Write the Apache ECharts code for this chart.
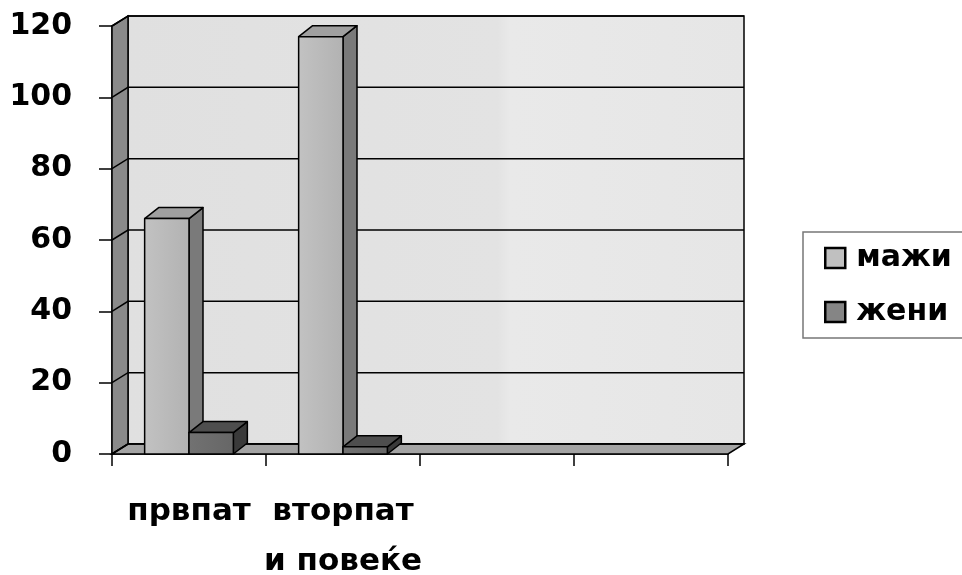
<!DOCTYPE html>
<html><head><meta charset="utf-8">
<script src="https://cdn.jsdelivr.net/npm/echarts@6/dist/echarts.min.js"></script>
<style>html,body{margin:0;padding:0;background:#fff}#c{width:962px;height:575px}</style>
</head><body><div id="c"></div>
<script>
const categories = ['првпат', 'вторпат\nи повеќе', '', ''];
const seriesNames = ['мажи', 'жени'];
const maleValues = [66, 117];
const femaleValues = [6, 2];
const yTicks = [0, 20, 40, 60, 80, 100, 120];

const FONT = '"DejaVu Sans", "Open Sans", sans-serif';
const DX = 16, DY = -10;   // wall depth
const BDX = 14, BDY = -11; // bar depth
const chart = echarts.init(document.getElementById('c'));

function frame(api) {
  const p0 = api.coord([0, 0]);
  const bw = api.size([1, 0])[0];
  const left = p0[0] - bw / 2;
  const right = left + bw * categories.length;
  const bottom = p0[1];
  const top = api.coord([0, yTicks[yTicks.length - 1]])[1];
  return { left, right, bottom, top, bw };
}

function renderWalls(params, api) {
  const f = frame(api);
  return {
    type: 'group',
    children: [
      { type: 'rect', shape: { x: f.left + DX, y: f.top + DY, width: f.right - f.left, height: f.bottom - f.top },
        style: { fill: new echarts.graphic.LinearGradient(0, 0, 1, 0, [
          { offset: 0, color: '#e0e0e0' }, { offset: 0.6, color: '#e3e3e3' }, { offset: 0.62, color: '#e9e9e9' }, { offset: 1, color: '#e6e6e6' }]),
          stroke: '#000', lineWidth: 1.5 } },
      { type: 'polygon', shape: { points: [[f.left, f.top], [f.left + DX, f.top + DY], [f.left + DX, f.bottom + DY], [f.left, f.bottom]] },
        style: { fill: '#8a8a8a', stroke: '#000', lineWidth: 1.5 } },
      { type: 'polygon', shape: { points: [[f.left, f.bottom], [f.left + DX, f.bottom + DY], [f.right + DX, f.bottom + DY], [f.right, f.bottom]] },
        style: { fill: '#a4a4a4', stroke: '#000', lineWidth: 1.5 } }
    ]
  };
}

function renderGrid(params, api) {
  const f = frame(api);
  const y = api.coord([0, api.value(0)])[1];
  return {
    type: 'polyline',
    shape: { points: [[f.left, y], [f.left + DX, y + DY], [f.right + DX, y + DY]] },
    style: { fill: null, stroke: '#000', lineWidth: 1.5 }
  };
}

function makeBarRenderer(side, colors) {
  return function (params, api) {
    const i = api.value(0), v = api.value(1);
    const base = api.coord([i, 0]);
    const topP = api.coord([i, v]);
    const bw = api.size([1, 0])[0];
    const w = bw * 0.288;
    const x0 = side === 0 ? base[0] - w : base[0];
    const x1 = x0 + w;
    const yb = base[1], yt = topP[1];
    const st = { stroke: '#000', lineWidth: 1.5, lineJoin: 'round' };
    return {
      type: 'group',
      children: [
        { type: 'polygon', shape: { points: [[x1, yt], [x1 + BDX, yt + BDY], [x1 + BDX, yb + BDY], [x1, yb]] },
          style: Object.assign({ fill: colors.side }, st) },
        { type: 'polygon', shape: { points: [[x0, yt], [x0 + BDX, yt + BDY], [x1 + BDX, yt + BDY], [x1, yt]] },
          style: Object.assign({ fill: colors.top }, st) },
        { type: 'rect', shape: { x: x0, y: yt, width: w, height: yb - yt },
          style: Object.assign({ fill: new echarts.graphic.LinearGradient(0, 0, 1, 0, [
            { offset: 0, color: colors.front1 }, { offset: 1, color: colors.front2 }]) }, st) }
      ]
    };
  };
}

const maleColors = { front1: '#c2c2c2', front2: '#b2b2b2', top: '#a0a0a0', side: '#7a7a7a' };
const femaleColors = { front1: '#727272', front2: '#666666', top: '#4e4e4e', side: '#3a3a3a' };

chart.setOption({
  animation: false,
  backgroundColor: '#fff',
  grid: { left: 112, right: 234, top: 26, bottom: 121, containLabel: false, outerBoundsMode: 'none' },
  legend: {
    orient: 'vertical', left: 803, top: 232,
    padding: [8, 60, 8, 21], itemGap: 18,
    itemWidth: 20, itemHeight: 20,
    borderColor: '#777', borderWidth: 1.5, backgroundColor: '#fff',
    textStyle: { fontFamily: FONT, fontWeight: 'bold', fontSize: 30, color: '#000', lineHeight: 36, padding: [0, 0, 0, 6] },
    data: [
      { name: seriesNames[0], icon: 'rect', itemStyle: { color: '#c0c0c0', borderColor: '#000', borderWidth: 2.5 } },
      { name: seriesNames[1], icon: 'rect', itemStyle: { color: '#858585', borderColor: '#000', borderWidth: 2.5 } }
    ]
  },
  xAxis: {
    type: 'category', data: categories, boundaryGap: true,
    axisLine: { show: true, lineStyle: { color: '#000', width: 1.5 } },
    axisTick: { show: true, length: 12, lineStyle: { color: '#000', width: 1.5 } },
    axisLabel: { interval: 0, fontFamily: FONT, fontWeight: 'bold', fontSize: 31, color: '#000', lineHeight: 50, margin: 33 },
    splitLine: { show: false }
  },
  yAxis: {
    type: 'value', min: 0, max: 120, interval: 20,
    axisLine: { show: true, lineStyle: { color: '#000', width: 1.5 } },
    axisTick: { show: true, length: 13, lineStyle: { color: '#000', width: 1.5 } },
    axisLabel: { fontFamily: FONT, fontWeight: 'bold', fontSize: 30, color: '#000', margin: 40 },
    splitLine: { show: false }
  },
  series: [
    { type: 'custom', name: 'walls', z: 1, silent: true, data: [[0]], renderItem: renderWalls },
    { type: 'custom', name: 'grid', z: 2, silent: true, data: yTicks.map(v => [v]), renderItem: renderGrid },
    { type: 'custom', name: seriesNames[0], z: 3, itemStyle: { color: '#c0c0c0' },
      data: maleValues.map((v, i) => [i, v]), renderItem: makeBarRenderer(0, maleColors) },
    { type: 'custom', name: seriesNames[1], z: 4, itemStyle: { color: '#858585' },
      data: femaleValues.map((v, i) => [i, v]), renderItem: makeBarRenderer(1, femaleColors) }
  ]
});
</script></body></html>
